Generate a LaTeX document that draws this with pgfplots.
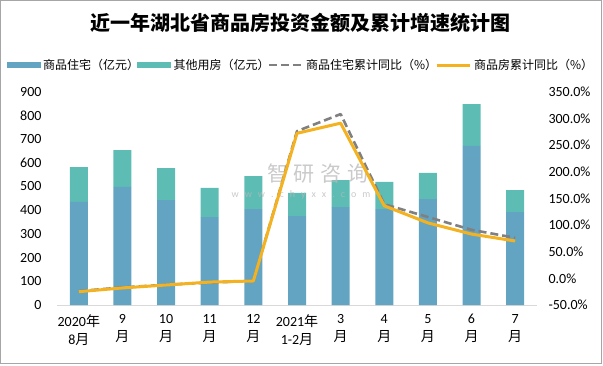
\documentclass[border=0pt]{standalone}
\usepackage{pgfplots}
\pgfplotsset{compat=1.18}
\usepackage{fontspec}
\setmainfont{Carlito}
\newfontfamily\cjk{Noto Sans CJK SC}
\definecolor{cRes}{HTML}{62A4C2}
\definecolor{cOth}{HTML}{5DBDB5}
\definecolor{cGray}{HTML}{808080}
\definecolor{cYel}{HTML}{F4B120}
\definecolor{cAx}{HTML}{D9D9D9}
\begin{document}
\begin{tikzpicture}
\useasboundingbox (-57pt,-60pt) rectangle (546pt,305pt);
\draw[line width=1pt, color=black!35] (-56.5pt,-58.5pt) rectangle (544pt,304.5pt);
\node[font=\cjk\bfseries\fontsize{20}{24}\selectfont] at (244pt,282pt) {近一年湖北省商品房投资金额及累计增速统计图};
\begin{axis}[
  scale only axis, width=480pt, height=213.3pt,
  xmin=-0.5, xmax=10.5, ymin=0, ymax=900,
  ybar stacked, bar width=18pt,
  axis x line*=bottom, axis y line*=left,
  x axis line style={draw=cAx, line width=1pt, -},
  y axis line style={draw=none},
  major tick length=0,
  ytick={0,100,...,900},
  xtick={0,...,10},
  xticklabels={{2020{\cjk 年}\\8{\cjk 月}},{9\\{\cjk 月}},{10\\{\cjk 月}},{11\\{\cjk 月}},{12\\{\cjk 月}},{2021{\cjk 年}\\1-2{\cjk 月}},{3\\{\cjk 月}},{4\\{\cjk 月}},{5\\{\cjk 月}},{6\\{\cjk 月}},{7\\{\cjk 月}}},
  tick label style={font=\fontsize{14}{18}\selectfont},
  /pgf/number format/assume math mode=true,
  xticklabel style={align=center, yshift=-6pt},
  yticklabel style={xshift=-12pt},
]
\addplot[draw=none, fill=cRes] coordinates {(0,435) (1,498) (2,443) (3,371) (4,405) (5,375) (6,413) (7,405) (8,447) (9,671) (10,392)};
\addplot[draw=none, fill=cOth] coordinates {(0,147) (1,156) (2,135) (3,123) (4,139) (5,98) (6,114) (7,114) (8,110) (9,177) (10,93)};
\end{axis}
\node[text=black!28, opacity=0.75, font=\cjk\fontsize{21}{22}\selectfont] at (261pt,131pt) {智\hspace{6pt}研\hspace{6pt}咨\hspace{6pt}询};
\node[text=black!28, opacity=0.75, font=\fontsize{10}{11}\selectfont] at (244pt,110pt) {w\hspace{6pt}w\hspace{6pt}w\hspace{6pt}.\hspace{6pt}c\hspace{6pt}h\hspace{6pt}y\hspace{6pt}x\hspace{6pt}x\hspace{6pt}.\hspace{6pt}c\hspace{6pt}o\hspace{6pt}m};
\begin{axis}[
  scale only axis, width=480pt, height=213.3pt,
  xmin=-0.5, xmax=10.5, ymin=-50, ymax=350,
  axis x line=none, axis y line*=right,
  y axis line style={draw=none},
  major tick length=0,
  ytick={-50,0,...,350},
  yticklabel={\pgfmathprintnumber[fixed,fixed zerofill,precision=1]{\tick}\%},
  tick label style={font=\fontsize{14}{18}\selectfont},
  /pgf/number format/assume math mode=true,
  yticklabel style={anchor=west, xshift=8pt},
  legend columns=4,
  legend style={at={(0.5,1.125)}, anchor=center, draw=none, fill=none,
    font=\cjk\fontsize{12}{15}\selectfont,
    /tikz/every odd column/.append style={column sep=3pt},
    /tikz/every even column/.append style={column sep=4pt},
    nodes={inner xsep=0pt}},
]
\addlegendimage{legend image code/.code={\fill[cRes] (0pt,-2.5pt) rectangle (33pt,2.5pt);}}
\addlegendentry{商品住宅（亿元）\kern-6pt}
\addlegendimage{legend image code/.code={\fill[cOth] (0pt,-2.5pt) rectangle (33pt,2.5pt);}}
\addlegendentry{其他用房（亿元）\kern-6pt}
\addplot[cGray, line width=2.6pt, dash pattern=on 8pt off 4pt, line join=round,
  legend image code/.code={\draw[cGray,line width=2.6pt,dash pattern=on 8pt off 4pt] (0pt,0pt)--(33pt,0pt);}]
  coordinates {(0,-24) (1,-17) (2,-12) (3,-8) (4,-5) (5,276) (6,308) (7,139) (8,115) (9,91) (10,76)};
\addlegendentry{商品住宅累计同比（\%）\kern-6pt}
\addplot[cYel, line width=3pt, line join=round,
  legend image code/.code={\draw[cYel,line width=3pt] (0pt,0pt)--(33pt,0pt);}]
  coordinates {(0,-25) (1,-18) (2,-12.5) (3,-7) (4,-5) (5,272) (6,291) (7,136) (8,104) (9,83) (10,70)};
\addlegendentry{商品房累计同比（\%）\kern-6pt}
\end{axis}
\end{tikzpicture}
\end{document}
